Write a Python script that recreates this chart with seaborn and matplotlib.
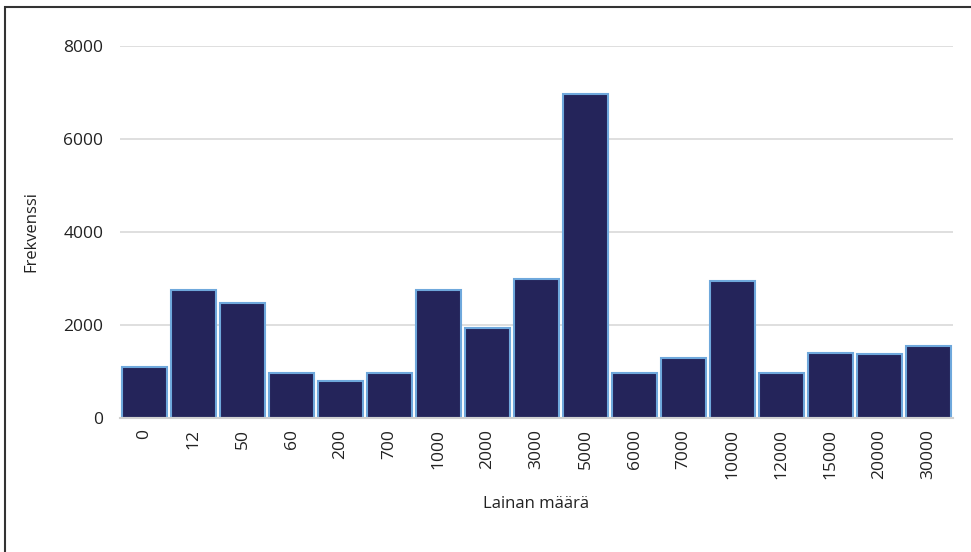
import numpy as np
import pandas as pd
import seaborn as sns
import matplotlib.pyplot as plt
from matplotlib.patches import Rectangle

amounts = ['0', '12', '50', '60', '200', '700', '1000', '2000', '3000', '5000',
           '6000', '7000', '10000', '12000', '15000', '20000', '30000']
counts = [1100, 2750, 2470, 970, 800, 970, 2750, 1930, 3000, 6970,
          970, 1300, 2950, 960, 1400, 1385, 1540]

df = pd.DataFrame({'Lainan määrä': amounts, 'Frekvenssi': counts})

sns.set_style('white')
plt.rcParams['font.family'] = ['Open Sans', 'DejaVu Sans']

fig = plt.figure(figsize=(9.71, 5.52), dpi=100)
ax = fig.add_axes([120 / 971, 1 - 418 / 552, (953 - 120) / 971, (418 - 46) / 552])

sns.barplot(data=df, x='Lainan määrä', y='Frekvenssi', order=amounts,
            color='#24245a', saturation=1, width=0.93,
            edgecolor='#6fa8dc', linewidth=1.5, ax=ax)

ax.set_ylim(0, 8000)
ax.set_xlim(-0.5, len(amounts) - 0.5)
ax.set_yticks([0, 2000, 4000, 6000, 8000])
ax.yaxis.grid(True, color='#d9d9d9', linewidth=1.2)
ax.set_axisbelow(True)
for s in ['top', 'right', 'left']:
    ax.spines[s].set_visible(False)
ax.spines['bottom'].set_color('#d0d0d0')
ax.spines['bottom'].set_linewidth(1.5)
ax.tick_params(axis='both', length=0, labelsize=12.5, colors='#222222')
ax.tick_params(axis='y', pad=12)
ax.tick_params(axis='x', pad=8, rotation=90)
ax.set_xlabel('Lainan määrä', fontsize=12, color='#222222', labelpad=12)
ax.set_ylabel('Frekvenssi', fontsize=12, color='#222222', labelpad=17)

# outer frame
fig.patches.append(Rectangle((5 / 971, -0.05), 1.1, 1 - 7 / 552 + 0.05,
                             transform=fig.transFigure, fill=False,
                             edgecolor='#333333', linewidth=1.5))

fig.savefig('out.png', dpi=100)
